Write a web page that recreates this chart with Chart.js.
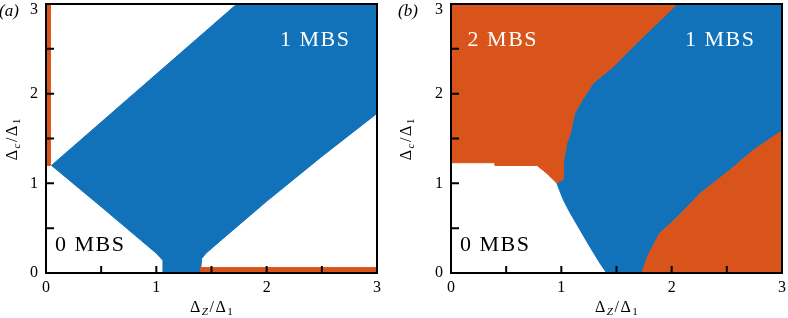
<!DOCTYPE html>
<html>
<head>
<meta charset="utf-8">
<script src="https://cdn.jsdelivr.net/npm/chart.js@4.4.1/dist/chart.umd.min.js"></script>
<style>
  body { margin: 0; background: #fff; }
  canvas { position: absolute; top: 0; }
  #chartA { left: 0; }
  #chartB { left: 394px; }
</style>
</head>
<body>
<canvas id="chartA" width="394" height="318"></canvas>
<canvas id="chartB" width="394" height="318"></canvas>
<script>
// eixos
const xTicks = [0, 0.5, 1, 1.5, 2, 2.5, 3];
const yTicks = [0, 0.5, 1, 1.5, 2, 2.5, 3];

// painel (a): regiao 1 MBS (poligono)
const aBlueX = [0.05, 1.73, 3.0, 3.0, 2.5, 2.0, 1.6, 1.45, 1.41, 1.40, 1.06, 1.06, 1.0, 0.5, 0.05];
const aBlueY = [1.2, 3.0, 3.0, 1.78, 1.3, 0.8, 0.38, 0.22, 0.16, 0.0, 0.0, 0.14, 0.22, 0.74, 1.2];
// painel (a): faixas 2 MBS
const aLeftX = [0, 0.04, 0.04, 0, 0];
const aLeftY = [1.2, 1.2, 3.0, 3.0, 1.2];
const aBottomX = [1.4, 3.0, 3.0, 1.4, 1.4];
const aBottomY = [0, 0, 0.06, 0.06, 0];

// painel (b): fronteira 2 MBS / 1 MBS (de baixo para cima)
const bMidX = [0.96, 1.02, 1.02, 1.05, 1.08, 1.12, 1.19, 1.29, 1.47, 1.62, 1.83, 2.05];
const bMidY = [1.0, 1.05, 1.25, 1.45, 1.55, 1.78, 1.93, 2.12, 2.30, 2.49, 2.74, 3.0];
// painel (b): fronteira 0 MBS / 1 MBS (de cima para baixo)
const bZeroX = [0.96, 1.02, 1.08, 1.17, 1.26, 1.35, 1.40, 1.40];
const bZeroY = [1.0, 0.81, 0.67, 0.48, 0.29, 0.11, 0.02, 0.0];
// painel (b): topo da regiao 0 MBS (da direita para a esquerda)
const bTopX = [0.96, 0.87, 0.78, 0.4, 0.4, 0];
const bTopY = [1.0, 1.11, 1.2, 1.2, 1.23, 1.23];
// painel (b): fronteira 1 MBS / 2 MBS inferior (de baixo para cima)
const bLowX = [1.73, 1.78, 1.89, 2.05, 2.26, 2.53, 2.74, 2.98, 3.0];
const bLowY = [0.0, 0.18, 0.44, 0.62, 0.89, 1.15, 1.37, 1.57, 1.58];

const BLUE = '#1272B9';
const ORANGE = '#D9541A';
const SERIF = "'Liberation Serif', 'DejaVu Serif', serif";

function pts(xs, ys) {
    return xs.map((x, i) => ({ x: x, y: ys[i] }));
}

function poly(points, color) {
    // fecha o poligono
    const p = points.slice();
    p.push(points[0]);
    return {
        data: p,
        fill: 'shape',
        backgroundColor: color,
        borderColor: color,
        borderWidth: 1,
        pointRadius: 0,
        tension: 0
    };
}

// texto com subscrito
function drawMath(ctx, parts, x, y, size, align) {
    const gap = 1.5;
    const widths = parts.map((p) => {
        ctx.font = (p.it ? 'italic ' : '') + (p.sub ? size * 0.7 : size) + 'px ' + SERIF;
        return ctx.measureText(p.t).width + gap;
    });
    const total = widths.reduce((a, b) => a + b, 0) - gap;
    let cx = align === 'center' ? x - total / 2 : x;
    parts.forEach((p, i) => {
        ctx.font = (p.it ? 'italic ' : '') + (p.sub ? size * 0.7 : size) + 'px ' + SERIF;
        ctx.fillText(p.t, cx, p.sub ? y + size * 0.18 : y);
        cx += widths[i];
    });
}

const xTitle = [{ t: 'Δ' }, { t: 'Z', sub: true, it: true }, { t: '/' }, { t: 'Δ' }, { t: '1', sub: true }];
const yTitle = [{ t: 'Δ' }, { t: 'c', sub: true, it: true }, { t: '/' }, { t: 'Δ' }, { t: '1', sub: true }];

const framePlugin = {
    id: 'frame',
    afterDraw(chart, args, opts) {
        const ctx = chart.ctx;
        const a = chart.chartArea;
        const xs = chart.scales.x;
        const ys = chart.scales.y;
        ctx.save();
        ctx.strokeStyle = '#000';
        ctx.lineWidth = 2;
        ctx.strokeRect(a.left, a.top, a.right - a.left, a.bottom - a.top);
        // ticks para dentro
        ctx.beginPath();
        xTicks.slice(1, -1).forEach((v) => {
            const px = xs.getPixelForValue(v);
            ctx.moveTo(px, a.bottom);
            ctx.lineTo(px, a.bottom - 7);
        });
        yTicks.slice(1, -1).forEach((v) => {
            const py = ys.getPixelForValue(v);
            ctx.moveTo(a.left, py);
            ctx.lineTo(a.left + 8, py);
        });
        ctx.stroke();

        // rotulos do eixo y (o de cima fica dentro da figura)
        ctx.fillStyle = '#000';
        ctx.font = '16px ' + SERIF;
        ctx.textAlign = 'right';
        ctx.textBaseline = 'middle';
        yTicks.filter((v) => Number.isInteger(v)).forEach((v) => {
            ctx.fillText(String(v), a.left - 8, Math.max(ys.getPixelForValue(v), 10));
        });

        ctx.textBaseline = 'alphabetic';
        ctx.textAlign = 'left';
        drawMath(ctx, xTitle, (a.left + a.right) / 2, 312, 16, 'center');
        ctx.save();
        ctx.translate(17, (a.top + a.bottom) / 2 + 1);
        ctx.rotate(-Math.PI / 2);
        drawMath(ctx, yTitle, 0, 0, 16, 'center');
        ctx.restore();

        // letra do painel
        ctx.font = 'italic 17px ' + SERIF;
        ctx.textAlign = 'center';
        ctx.textBaseline = 'middle';
        ctx.fillText(opts.letter, opts.letterX, 12);

        // rotulos das regioes
        ctx.font = '22px ' + SERIF;
        ctx.letterSpacing = '1.5px';
        opts.labels.forEach((l) => {
            ctx.fillStyle = l.color;
            ctx.fillText(l.text, xs.getPixelForValue(l.x), ys.getPixelForValue(l.y));
        });
        ctx.restore();
    }
};

function makePanel(id, datasets, yWidth, padRight, letter, letterX, labels) {
    const ctx = document.getElementById(id).getContext('2d');
    return new Chart(ctx, {
        type: 'line',
        data: { datasets: datasets },
        plugins: [framePlugin],
        options: {
            responsive: false,
            animation: false,
            events: [],
            layout: { autoPadding: false, padding: { left: 0, top: 4, right: padRight, bottom: 0 } },
            plugins: {
                legend: { display: false },
                tooltip: { enabled: false },
                frame: { letter: letter, letterX: letterX, labels: labels }
            },
            scales: {
                x: {
                    type: 'linear',
                    min: 0,
                    max: 3,
                    afterFit: (s) => {
                        s.height = 45;
                        s.paddingLeft = 0;
                        s.paddingRight = 0;
                    },
                    afterBuildTicks: (s) => { s.ticks = xTicks.map((v) => ({ value: v })); },
                    grid: { display: false },
                    border: { display: false },
                    ticks: {
                        padding: -3,
                        color: '#000',
                        font: { family: SERIF, size: 16 },
                        maxRotation: 0,
                        autoSkip: false,
                        callback: (v) => (Number.isInteger(v) ? String(v) : '')
                    }
                },
                y: {
                    type: 'linear',
                    min: 0,
                    max: 3,
                    afterFit: (s) => {
                        s.width = yWidth;
                        s.paddingTop = 0;
                        s.paddingBottom = 0;
                    },
                    afterBuildTicks: (s) => { s.ticks = yTicks.map((v) => ({ value: v })); },
                    grid: { display: false },
                    border: { display: false },
                    ticks: { display: false }
                }
            }
        }
    });
}

// painel (a)
makePanel('chartA', [
    poly(pts(aLeftX, aLeftY), ORANGE),
    poly(pts(aBottomX, aBottomY), ORANGE),
    poly(pts(aBlueX, aBlueY), BLUE)
], 46, 17, '(a)', 9, [
    { text: '1 MBS', x: 2.44, y: 2.6, color: '#fff' },
    { text: '0 MBS', x: 0.4, y: 0.31, color: '#000' }
]);

// painel (b)
const bUpper = pts(bMidX, bMidY).concat([{ x: 0, y: 3 }], pts(bTopX, bTopY).reverse());
const bBlue = pts(bMidX, bMidY).concat([{ x: 3, y: 3 }], pts(bLowX, bLowY).reverse(), pts(bZeroX, bZeroY).reverse());
const bLower = pts(bLowX, bLowY).concat([{ x: 3, y: 0 }]);

makePanel('chartB', [
    poly(bUpper, ORANGE),
    poly(bLower, ORANGE),
    poly(bBlue, BLUE)
], 57, 6, '(b)', 14, [
    { text: '2 MBS', x: 0.47, y: 2.6, color: '#fff' },
    { text: '1 MBS', x: 2.44, y: 2.6, color: '#fff' },
    { text: '0 MBS', x: 0.4, y: 0.31, color: '#000' }
]);
</script>
</body>
</html>
